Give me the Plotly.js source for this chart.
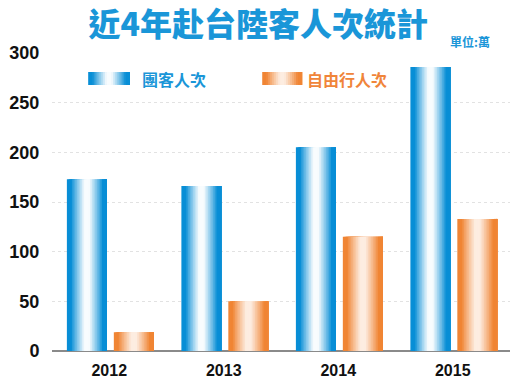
<!DOCTYPE html>
<html>
<head>
<meta charset="utf-8">
<script src="https://cdn.plot.ly/plotly-3.0.1.min.js"></script>
<style>html,body{margin:0;padding:0;background:#fff;}#chart{width:527px;height:382px;}</style>
</head>
<body>
<div id="chart"></div>
<script>
// ---- data ----
const years = ["2012", "2013", "2014", "2015"];
const groupTourists = [173, 166, 205, 286];      // 團客人次 (萬)
const independentTourists = [19, 50, 115, 133];  // 自由行人次 (萬)
const seriesNames = ["團客人次", "自由行人次"];
const yTicks = [0, 50, 100, 150, 200, 250, 300];

// ---- styling ----
const BLUE = [8, 142, 214];
const ORANGE = [240, 133, 52];
const N = 24;           // slices per bar, to imitate the gradient
const barW = 0.35;
const offsets = [-0.37, 0.04];

function shade(base, s, maxLight) {
  const d = Math.abs(s - 0.5) * 2;
  let f = (0.78 - d) / 0.66;
  f = Math.max(0, Math.min(1, f));
  f = Math.pow(f, 0.9) * maxLight;
  const c = base.map(v => Math.round(v + (255 - v) * f));
  return `rgb(${c[0]},${c[1]},${c[2]})`;
}

const xIdx = years.map((_, i) => i);
const traces = [];
const series = [
  {vals: groupTourists, base: BLUE, off: offsets[0], light: 0.97},
  {vals: independentTourists, base: ORANGE, off: offsets[1], light: 0.85}
];
series.forEach((sr, k) => {
  for (let i = 0; i < N; i++) {
    const s = (i + 0.5) / N;
    const start = i * barW / N;
    traces.push({
      type: 'bar',
      x: xIdx,
      y: sr.vals,
      width: barW - start,
      offset: sr.off + start,
      marker: {color: shade(sr.base, s, sr.light), line: {width: 0}},
      name: seriesNames[k],
      showlegend: false,
      hoverinfo: 'skip'
    });
  }
});

// legend swatches built from shapes (paper coords)
const shapes = [];
function swatch(x0, x1, y0, y1, base, light) {
  const M = 20;
  for (let i = 0; i < M; i++) {
    const s = (i + 0.5) / M;
    shapes.push({type: 'rect', xref: 'paper', yref: 'paper',
      x0: x0 + (x1 - x0) * i / M, x1: x1,
      y0: y0, y1: y1, line: {width: 0}, fillcolor: shade(base, s, light), layer: 'above'});
  }
}
swatch(0.079, 0.170, 0.893, 0.936, BLUE, 0.97);
swatch(0.459, 0.546, 0.893, 0.936, ORANGE, 0.85);

const layout = {
  width: 527, height: 382,
  margin: {l: 52, r: 17, t: 53, b: 31},
  paper_bgcolor: '#ffffff', plot_bgcolor: '#ffffff',
  barmode: 'overlay',
  showlegend: false,
  title: {
    text: '近4年赴台陸客人次統計',
    font: {family: 'Noto Sans CJK TC, sans-serif', size: 32, color: '#1a96d8', weight: 900},
    x: 0.49, xanchor: 'center', y: 0.935, yanchor: 'middle', yref: 'container'
  },
  xaxis: {
    range: [-0.5, 3.5],
    tickvals: xIdx, ticktext: years,
    showgrid: false, zeroline: false,
    showline: false,
    ticks: 'outside', ticklen: 5, tickcolor: 'rgba(0,0,0,0)',
    tickfont: {family: 'Liberation Sans, Arial, sans-serif', size: 16, color: '#111', weight: 'bold'}
  },
  yaxis: {
    range: [0, 300],
    tickvals: yTicks,
    showgrid: true, gridcolor: '#e2e2e2', gridwidth: 1, griddash: 'dot',
    zeroline: true, zerolinecolor: '#8a8a8a', zerolinewidth: 1.5,
    ticks: 'outside', ticklen: 8, tickcolor: 'rgba(0,0,0,0)',
    tickfont: {family: 'Liberation Sans, Arial, sans-serif', size: 18, color: '#111', weight: 'bold'}
  },
  shapes: shapes,
  annotations: [
    {text: '單位:萬', xref: 'paper', yref: 'paper', x: 0.913, y: 1.037, xanchor: 'center', yanchor: 'middle',
     showarrow: false, font: {family: 'Noto Sans CJK TC, sans-serif', size: 12, color: '#1a96d8', weight: 'bold'}},
    {text: seriesNames[0], xref: 'paper', yref: 'paper', x: 0.192, y: 0.914, xanchor: 'left', yanchor: 'middle',
     showarrow: false, font: {family: 'Noto Sans CJK TC, sans-serif', size: 16, color: '#1a96d8', weight: 'bold'}},
    {text: seriesNames[1], xref: 'paper', yref: 'paper', x: 0.552, y: 0.914, xanchor: 'left', yanchor: 'middle',
     showarrow: false, font: {family: 'Noto Sans CJK TC, sans-serif', size: 16, color: '#f0853a', weight: 'bold'}}
  ]
};

Plotly.newPlot('chart', traces, layout, {displayModeBar: false, staticPlot: true});
</script>
</body>
</html>
